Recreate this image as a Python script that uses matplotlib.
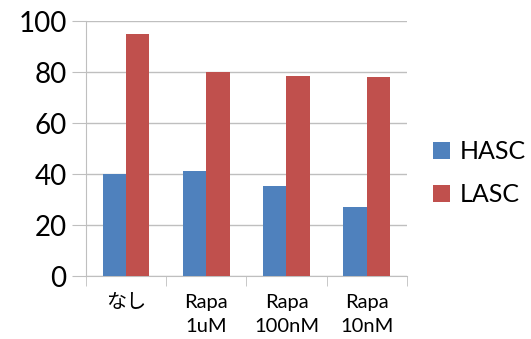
import numpy as np
import matplotlib.pyplot as plt

plt.rcParams['font.family'] = ['Lato', 'Noto Sans CJK JP', 'DejaVu Sans']

categories = ['なし', 'Rapa\n1uM', 'Rapa\n100nM', 'Rapa\n10nM']
hasc = [40.0, 41.4, 35.5, 27.2]
lasc = [94.9, 80.0, 78.4, 78.2]
color_hasc = '#4F81BD'
color_lasc = '#C0504D'
grid_color = '#BFBFBF'

fig = plt.figure(figsize=(5.31, 3.39), dpi=100)
ax = fig.add_axes([0.162, 0.185, 0.604, 0.752])

x = np.arange(len(categories))
w = 0.29
ax.bar(x - w / 2, hasc, width=w, color=color_hasc, label='HASC', zorder=3)
ax.bar(x + w / 2, lasc, width=w, color=color_lasc, label='LASC', zorder=3)

ax.set_xlim(-0.5, len(categories) - 0.5)
ax.set_ylim(0, 100)
ax.set_yticks(range(0, 101, 20))
ax.yaxis.grid(True, color=grid_color, linewidth=1, zorder=0)
ax.tick_params(axis='y', length=10, color=grid_color, labelsize=20, pad=4)

ax.set_xticks(x)
ax.set_xticklabels(categories, fontsize=14.5, linespacing=1.45)
ax.set_xticks(np.arange(-0.5, len(categories)), minor=True)
ax.tick_params(axis='x', which='major', length=0, pad=13)
ax.tick_params(axis='x', which='minor', length=7, color=grid_color)

for side in ['top', 'right']:
    ax.spines[side].set_visible(False)
for side in ['left', 'bottom']:
    ax.spines[side].set_color(grid_color)

ax.legend(loc='center left', bbox_to_anchor=(0.797, 0.49),
          bbox_transform=fig.transFigure, frameon=False, borderaxespad=0,
          fontsize=18, handlelength=0.67, handleheight=0.67,
          handletextpad=0.4, labelspacing=0.8)

fig.savefig('out.png', dpi=100)
